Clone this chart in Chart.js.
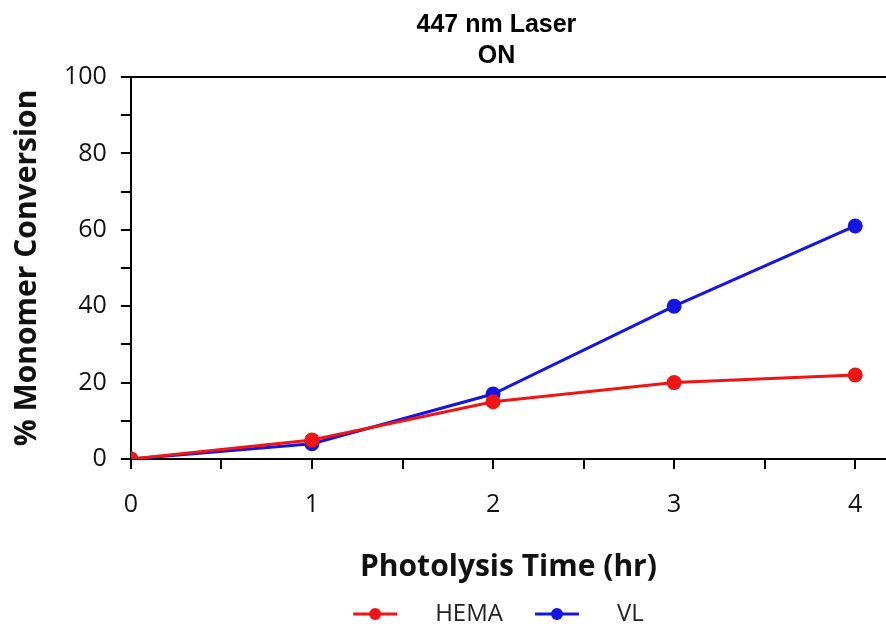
<!DOCTYPE html>
<html>
<head>
<meta charset="utf-8">
<script src="https://cdn.jsdelivr.net/npm/chart.js@4.4.1/dist/chart.umd.min.js"></script>
<style>
  html, body { margin: 0; padding: 0; background: #fff; }
  #wrap { width: 886px; height: 628px; }
</style>
</head>
<body>
<div id="wrap"><canvas id="myChart" width="886" height="628"></canvas></div>
<script>
// data
const times = [0, 1, 2, 3, 4];
const hema = [0, 5, 15, 20, 22];
const vl = [0, 4, 17, 40, 61];
const xTickLabels = [0, 1, 2, 3, 4];
const yTickLabels = [0, 20, 40, 60, 80, 100];

const red = "#f01414";
const blue = "#1414e6";

// legend symbol: short line with a dot in the middle (left margin gives the gap between items)
function legendMark(color) {
  const c = document.createElement("canvas");
  c.width = 90;
  c.height = 16;
  const g = c.getContext("2d");
  g.strokeStyle = color;
  g.lineWidth = 3;
  g.beginPath();
  g.moveTo(20, 8);
  g.lineTo(64, 8);
  g.stroke();
  g.fillStyle = color;
  g.beginPath();
  g.arc(42, 8, 6, 0, Math.PI * 2);
  g.fill();
  return c;
}

// top frame line of the plot area
const topFrame = {
  id: "topFrame",
  afterDraw(chart) {
    const a = chart.chartArea;
    const ctx = chart.ctx;
    ctx.save();
    ctx.strokeStyle = "#000";
    ctx.lineWidth = 2;
    ctx.beginPath();
    ctx.moveTo(a.left, a.top);
    ctx.lineTo(a.right, a.top);
    ctx.stroke();
    ctx.restore();
  },
};

// nudge the legend and the title a bit
const nudge = {
  id: "nudge",
  afterLayout(chart) {
    const lg = chart.legend;
    lg.left -= 20;
    lg.right -= 20;
    lg.top += 8;
    lg.bottom += 8;
    const tb = chart.titleBlock;
    tb.left -= 12;
    tb.right -= 12;
  },
};

const tickFont = { family: "'Open Sans', sans-serif", size: 25 };
const axisTitleFont = { family: "'Open Sans', sans-serif", size: 30, weight: "bold", lineHeight: 1.0 };

var ctx = document.getElementById("myChart").getContext("2d");
var myChart = new Chart(ctx, {
  type: "line",
  data: {
    datasets: [
      {
        label: "HEMA",
        data: times.map((t, i) => ({ x: t, y: hema[i] })),
        borderColor: red,
        backgroundColor: red,
        borderWidth: 3,
        pointRadius: 6,
        pointHoverRadius: 6,
      },
      {
        label: "VL",
        data: times.map((t, i) => ({ x: t, y: vl[i] })),
        borderColor: blue,
        backgroundColor: blue,
        borderWidth: 3,
        pointRadius: 6,
        pointHoverRadius: 6,
      },
    ],
  },
  options: {
    responsive: false,
    animation: false,
    layout: { autoPadding: false, padding: { left: 12, right: 0, top: 0, bottom: 0 } },
    plugins: {
      title: {
        display: true,
        text: ["447 nm Laser", "ON"],
        fullSize: false,
        color: "#000",
        font: { family: "'Liberation Sans Narrow', 'Liberation Sans', sans-serif", size: 25, weight: "bold", lineHeight: 1.24 },
        padding: { top: 10, bottom: 5 },
      },
      legend: {
        position: "bottom",
        fullSize: false,
        labels: {
          usePointStyle: true,
          pointStyleWidth: 90,
          padding: 12,
          color: "#222",
          font: { family: "'Open Sans', sans-serif", size: 24 },
          generateLabels(chart) {
            return chart.data.datasets.map((ds, i) => ({
              text: ds.label,
              pointStyle: legendMark(ds.borderColor),
              fillStyle: ds.borderColor,
              strokeStyle: ds.borderColor,
              lineWidth: 0,
              fontColor: "#222",
              datasetIndex: i,
            }));
          },
        },
      },
      tooltip: { enabled: false },
    },
    scales: {
      x: {
        type: "linear",
        min: 0,
        max: 4.17,
        afterBuildTicks(axis) {
          // major ticks at the labels, minor ticks half way between
          const vals = [];
          xTickLabels.forEach((v, i) => {
            vals.push(v);
            if (i < xTickLabels.length - 1) vals.push((v + xTickLabels[i + 1]) / 2);
          });
          axis.ticks = vals.map((v) => ({ value: v }));
        },
        ticks: {
          color: "#111",
          font: tickFont,
          padding: 21,
          maxRotation: 0,
          autoSkip: false,
          callback: (v) => (xTickLabels.includes(v) ? String(v) : ""),
        },
        grid: { drawOnChartArea: false, color: "#000", lineWidth: 2, tickLength: 10 },
        border: { color: "#000", width: 2 },
        title: { display: true, text: "Photolysis Time (hr)", color: "#111", font: axisTitleFont, padding: { top: 11, bottom: 0 } },
      },
      y: {
        min: 0,
        max: 100,
        ticks: {
          stepSize: 10,
          color: "#111",
          font: tickFont,
          padding: 14,
          autoSkip: false,
          callback: (v) => (yTickLabels.includes(v) ? String(v) : ""),
        },
        grid: { drawOnChartArea: false, color: "#000", lineWidth: 2, tickLength: 10 },
        border: { color: "#000", width: 2 },
        title: { display: true, text: "% Monomer Conversion", color: "#111", font: axisTitleFont, padding: { top: 0, bottom: 8 } },
      },
    },
  },
  plugins: [topFrame, nudge],
});
</script>
</body>
</html>
